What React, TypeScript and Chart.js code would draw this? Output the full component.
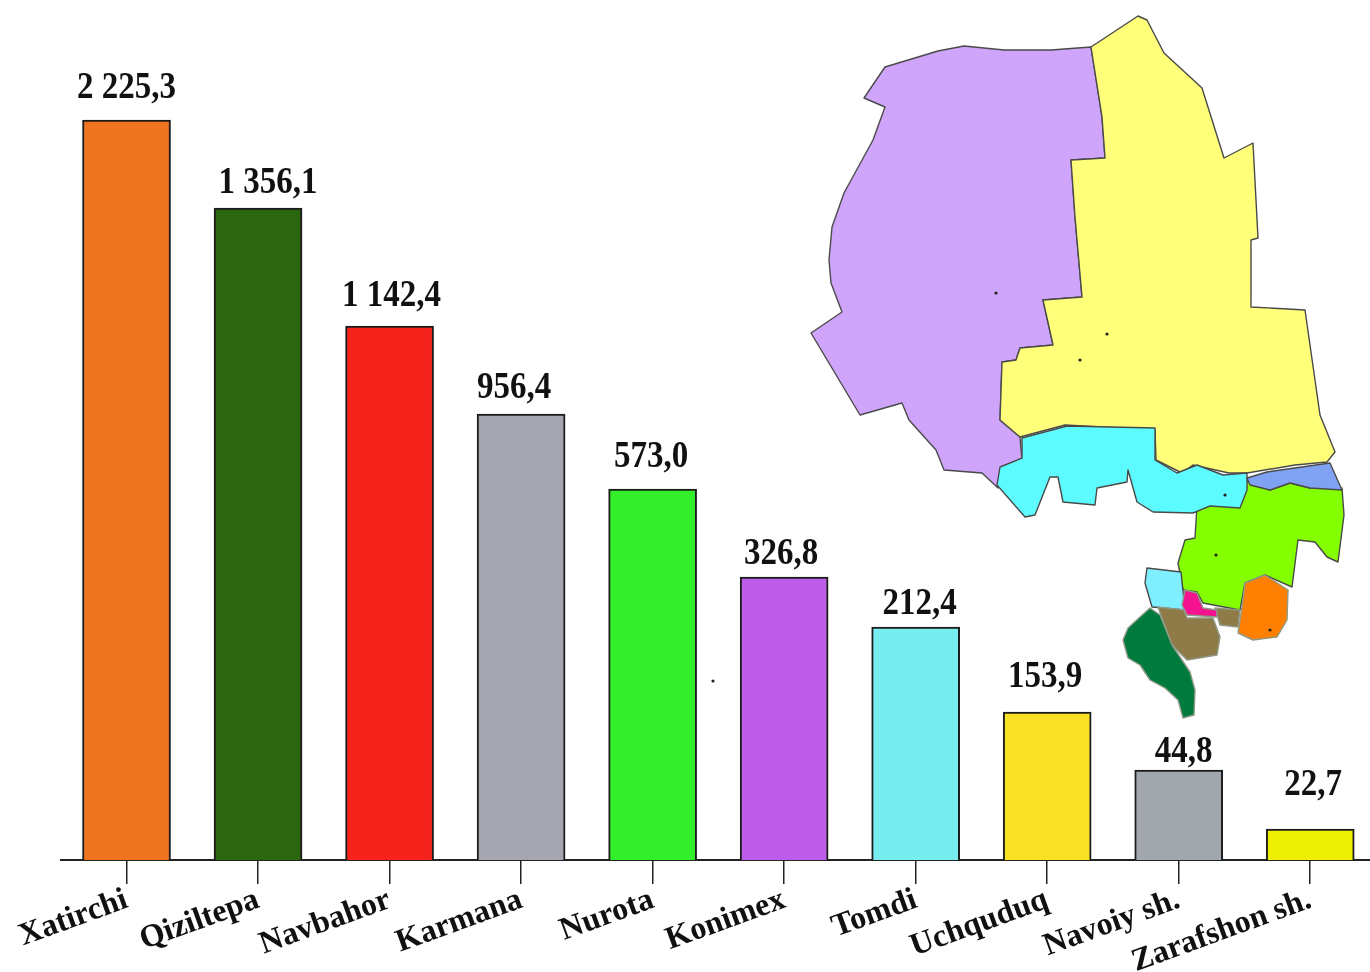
import React, { useEffect, useRef } from "react";
import { Chart, registerables } from "chart.js";

Chart.register(...registerables);

// Districts, printed values and the pictured bar lengths (the bars in the source are not to scale with the printed values).
const districts = ["Xatirchi", "Qiziltepa", "Navbahor", "Karmana", "Nurota", "Konimex", "Tomdi", "Uchquduq", "Navoiy sh.", "Zarafshon sh."];
const valueLabels = ["2 225,3", "1 356,1", "1 142,4", "956,4", "573,0", "326,8", "212,4", "153,9", "44,8", "22,7"];
const barLengths = [740, 652, 534, 446, 371, 283, 233, 148, 90, 31];
const barColors = ["#EE7420", "#2C660F", "#F5231B", "#A5A6B0", "#33EE2A", "#BE5DEA", "#78EDF0", "#F8E025", "#A2A7AE", "#EDEF05"];

// Hand placement of the value labels relative to each bar, as in the source.
const labelShiftX = [0, 10, 2, -7, -1.5, -3, 4, -2, 5, 3];
const labelGap = [22, 15, 20, 16, 22, 13, 13, 25, 8, 34];

// Decorative map inset (illustration, not data).
const darkEdge = "#4a4a4a";
const softEdge = "#8f9a86";
const mapRegions: [string, string, string][] = [
  ["#CFA5FB", darkEdge, "1091,47 1051,50 1004,50 964,46 938,51 885,67 864,98 885,107 873,140 844,193 832,227 829,260 831,283 842,312 811,333 860,415 902,403 909,420 936,450 944,470 982,473 998,488 1002,467 1022,460 1020,437 1000,420 1002,362 1016,360 1020,348 1053,345 1043,300 1082,297 1075,217 1071,160 1105,158 1102,117"],
  ["#FFFF7A", darkEdge, "1091,47 1138,16 1147,20 1164,53 1202,88 1224,158 1253,143 1258,238 1251,240 1251,307 1305,310 1320,415 1335,452 1327,462 1295,465 1247,473 1229,473 1193,465 1182,473 1156,460 1155,430 1065,425 1020,437 1000,420 1002,362 1016,360 1020,348 1053,345 1043,300 1082,297 1075,217 1071,160 1105,158 1102,117"],
  ["#84FF00", darkEdge, "1247,480 1270,490 1290,483 1310,488 1342,488 1344,515 1338,562 1327,557 1315,542 1298,540 1292,587 1265,575 1245,583 1240,610 1203,603 1197,592 1183,590 1178,563 1185,540 1195,538 1197,506 1240,506"],
  ["#5CFBFF", darkEdge, "1022,438 1067,426 1155,428 1155,460 1177,473 1197,465 1223,475 1247,473 1247,490 1240,508 1210,506 1193,513 1153,512 1137,502 1128,470 1127,482 1097,488 1095,505 1063,502 1058,477 1050,477 1035,515 1025,517 997,485 1000,467 1022,458"],
  ["#7FA3F2", darkEdge, "1247,478 1267,472 1330,463 1342,490 1310,488 1290,483 1270,490 1250,485"],
  ["#7FEFFF", darkEdge, "1147,568 1181,572 1185,610 1152,607 1145,583"],
  ["#8E7B47", softEdge, "1215,608 1240,610 1238,627 1220,625"],
  ["#8E7B47", softEdge, "1158,607 1184,610 1187,618 1213,618 1220,637 1217,655 1187,660 1172,645"],
  ["#FF8000", softEdge, "1245,583 1265,575 1288,590 1287,620 1277,637 1253,640 1238,633 1242,607"],
  ["#F5128E", softEdge, "1185,590 1197,593 1203,608 1217,610 1217,617 1187,615 1182,605"],
  ["#007A3D", softEdge, "1150,608 1160,615 1172,645 1190,672 1195,690 1194,715 1183,718 1178,700 1165,688 1150,680 1140,665 1128,658 1123,640 1128,628 1140,617"],
];
const mapDots: [number, number][] = [[996, 293], [1107, 334], [1080, 360], [1225, 495], [1216, 555], [1270, 630], [713, 681]];

const valueLabelPlugin = {
  id: "valueLabels",
  afterDatasetsDraw(chart: any) {
    const { ctx } = chart;
    const bars = chart.getDatasetMeta(0).data;
    ctx.save();
    ctx.fillStyle = "#111111";
    ctx.font = 'bold 33px "Liberation Serif"';
    ctx.textAlign = "center";
    ctx.textBaseline = "alphabetic";
    bars.forEach((bar: any, i: number) => {
      ctx.save();
      ctx.translate(bar.x + labelShiftX[i], bar.y - labelGap[i]);
      ctx.scale(1, 1.13);
      ctx.fillText(valueLabels[i], 0, 0);
      ctx.restore();
    });
    ctx.restore();
  },
};

export default function App() {
  const ref = useRef<HTMLCanvasElement>(null);
  useEffect(() => {
    const chart = new Chart(ref.current as HTMLCanvasElement, {
      type: "bar",
      data: {
        labels: districts,
        datasets: [
          {
            data: barLengths,
            backgroundColor: barColors,
            borderColor: "#1c1c1c",
            borderWidth: 2,
            barThickness: 88,
          },
        ],
      },
      options: {
        responsive: false,
        animation: false,
        layout: { padding: { left: 60.75, right: 0, top: 0, bottom: 0 } },
        plugins: { legend: { display: false }, tooltip: { enabled: false } },
        scales: {
          x: {
            afterFit(scale: any) {
              scale.paddingLeft = 0;
              scale.paddingRight = 0;
              scale.height = 112;
            },
            border: { display: true, color: "#222222", width: 2 },
            grid: { offset: false, drawOnChartArea: false, drawTicks: true, color: "#222222", lineWidth: 1.5, tickLength: 24 },
            ticks: {
              autoSkip: false,
              maxRotation: 20,
              minRotation: 20,
              padding: -3,
              color: "#111111",
              font: { family: '"Liberation Serif"', weight: "bold", size: 32 },
            },
          },
          y: { display: false, min: 0, max: 860 },
        },
      },
      plugins: [valueLabelPlugin],
    } as any);
    return () => chart.destroy();
  }, []);

  return (
    <div style={{ position: "absolute", left: 0, top: 0, width: 1370, height: 972, overflow: "hidden", background: "#fff" }}>
      <canvas ref={ref} width={1376} height={972} style={{ display: "block", width: 1376, height: 972 }} />
      <svg width={1370} height={972} style={{ position: "absolute", left: 0, top: 0, pointerEvents: "none" }}>
        {mapRegions.map(([fill, edge, points], i) => (
          <polygon key={i} points={points} fill={fill} stroke={edge} strokeWidth={1.4} strokeLinejoin="round" />
        ))}
        {mapDots.map(([cx, cy], i) => (
          <circle key={i} cx={cx} cy={cy} r={1.6} fill="#222" />
        ))}
      </svg>
    </div>
  );
}
